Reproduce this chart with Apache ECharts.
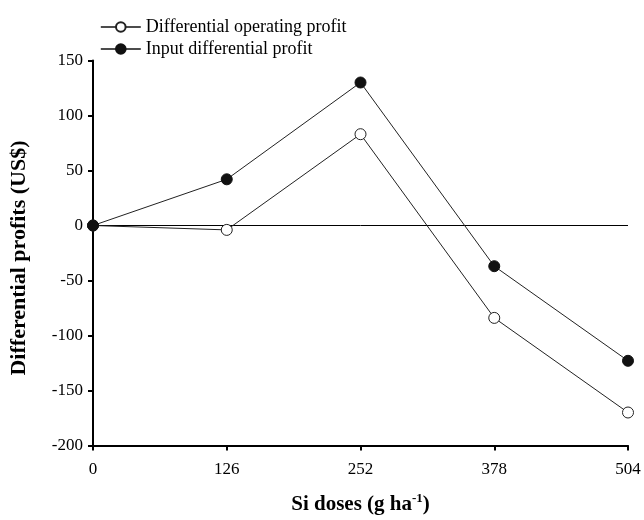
<!DOCTYPE html>
<html>
<head>
<meta charset="utf-8">
<script src="https://cdn.jsdelivr.net/npm/echarts@6/dist/echarts.min.js"></script>
<style>
  html, body { margin: 0; padding: 0; background: #fff; }
  #chart { width: 644px; height: 520px; }
</style>
</head>
<body>
<div id="chart"></div>
<script>
// Si doses applied (g ha-1)
const doses = [0, 126, 252, 378, 504];
// Differential profits (US$) per dose
const operatingProfit = [0, -4, 83, -84, -170];
const inputProfit = [0, 42, 130, -37, -123];
const seriesNames = ['Differential operating profit', 'Input differential profit'];

const FONT = '"Liberation Serif", "Times New Roman", serif';

const pairs = (vals) => doses.map((d, i) => [d, vals[i]]);

const chart = echarts.init(document.getElementById('chart'), null, { renderer: 'canvas' });

chart.setOption({
  animation: false,
  backgroundColor: '#ffffff',
  textStyle: { fontFamily: FONT, color: '#000' },
  grid: { left: 93, right: 16, top: 60.5, bottom: 74, containLabel: false },
  legend: {
    data: seriesNames,
    orient: 'vertical',
    left: 95,
    top: 13,
    itemWidth: 40,
    itemHeight: 12,
    itemGap: 4,
    lineStyle: { width: 1.6, color: '#111' },
    textStyle: { fontFamily: FONT, fontSize: 18, color: '#000' }
  },
  xAxis: {
    type: 'value',
    min: 0,
    max: 504,
    interval: 126,
    name: '{t|Si doses (g ha}{s|-1}{t|)}',
    nameLocation: 'middle',
    nameGap: 47,
    nameTextStyle: {
      rich: {
        t: { fontFamily: FONT, fontSize: 21, fontWeight: 'bold', color: '#000' },
        s: { fontFamily: FONT, fontSize: 13, fontWeight: 'bold', color: '#000', verticalAlign: 'top', padding: [0, 0, 11, 0] }
      }
    },
    axisLine: { show: true, onZero: false, lineStyle: { color: '#000', width: 2 } },
    axisTick: { show: true, inside: false, length: 5, lineStyle: { color: '#000', width: 2 } },
    axisLabel: { fontFamily: FONT, fontSize: 17, color: '#000', margin: 16 },
    splitLine: { show: false }
  },
  yAxis: {
    type: 'value',
    min: -200,
    max: 150,
    interval: 50,
    name: 'Differential profits (US$)',
    nameLocation: 'middle',
    nameGap: 63,
    nameRotate: 90,
    nameTextStyle: { fontFamily: FONT, fontSize: 22, fontWeight: 'bold', color: '#000', padding: [0, 10, 0, 0] },
    axisLine: { show: true, onZero: false, lineStyle: { color: '#000', width: 2 } },
    axisTick: { show: true, inside: false, length: 5, lineStyle: { color: '#000', width: 2 } },
    axisLabel: { fontFamily: FONT, fontSize: 17, color: '#000', margin: 10 },
    splitLine: { show: false }
  },
  series: [
    {
      name: seriesNames[0],
      type: 'line',
      data: pairs(operatingProfit),
      symbol: 'circle',
      symbolSize: 11,
      showSymbol: true,
      z: 3,
      lineStyle: { color: '#222', width: 1 },
      itemStyle: { color: '#fff', borderColor: '#222', borderWidth: 1 },
      markLine: {
        silent: true,
        symbol: ['none', 'none'],
        label: { show: false },
        lineStyle: { color: '#000', width: 1, type: 'solid' },
        data: [{ yAxis: 0 }],
        z: 1
      }
    },
    {
      name: seriesNames[1],
      type: 'line',
      data: pairs(inputProfit),
      symbol: 'circle',
      symbolSize: 11,
      showSymbol: true,
      z: 4,
      lineStyle: { color: '#222', width: 1 },
      itemStyle: { color: '#111', borderColor: '#111', borderWidth: 1 }
    }
  ]
});
</script>
</body>
</html>
